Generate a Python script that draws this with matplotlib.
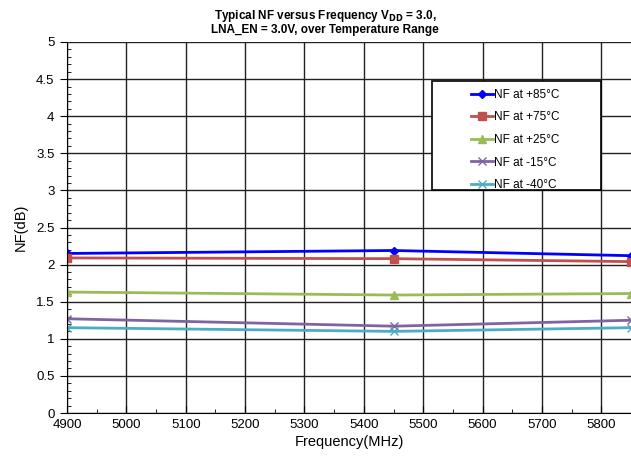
import numpy as np
import matplotlib.pyplot as plt
from matplotlib.ticker import MultipleLocator
from matplotlib.patches import Rectangle

plt.rcParams['font.family'] = ['Liberation Sans', 'DejaVu Sans']

# ── DATA ─────────────────────────────────────────────
freq = [4900, 5450, 5850]
nf_p85 = [2.15, 2.19, 2.12]
nf_p75 = [2.09, 2.08, 2.04]
nf_p25 = [1.63, 1.59, 1.61]
nf_m15 = [1.27, 1.17, 1.25]
nf_m40 = [1.15, 1.10, 1.15]

labels = ['NF at +85°C', 'NF at +75°C', 'NF at +25°C', 'NF at -15°C', 'NF at -40°C']
series = [nf_p85, nf_p75, nf_p25, nf_m15, nf_m40]
colors = ['#0000ff', '#c0504d', '#9bbb59', '#8064a2', '#4bacc6']
markers = ['D', 's', '^', 'x', 'x']
msizes = [4, 6, 6, 6, 6]

W, H = 631, 462
L, T, B = 67, 42, 413
fig = plt.figure(figsize=(W/100, H/100), dpi=100)
ax = fig.add_axes([L/W, 1 - B/H, (W - L)/W, (B - T)/H])

def ax_xy(px, py):
    return (px - L)/(W - L), 1 - (py - T)/(B - T)

for y, lab, c, m, ms in zip(series, labels, colors, markers, msizes):
    ax.plot(freq, y, color=c, marker=m, markersize=ms, linewidth=2,
            label=lab, clip_on=True)

ax.set_xlim(4900, 5850)
ax.set_ylim(0, 5)
ax.xaxis.set_major_locator(MultipleLocator(100))
ax.xaxis.set_minor_locator(MultipleLocator(50))
ax.yaxis.set_minor_locator(MultipleLocator(0.1))
ax.set_yticks(np.arange(0, 5.01, 0.5))
ax.set_yticklabels(['0', '0.5', '1', '1.5', '2', '2.5', '3', '3.5', '4', '4.5', '5'])
ax.grid(True, which='major', color='#222222', linewidth=1)
ax.set_axisbelow(True)
ax.tick_params(which='major', length=5, labelsize=9.5, direction='in', pad=4)
ax.tick_params(which='minor', length=3, direction='in')
ax.tick_params(axis='y', direction='out')
for s in ['right', 'top']:
    ax.spines[s].set_visible(False)

ax.set_xlabel('Frequency(MHz)', fontsize=10.5, labelpad=3)
ax.set_ylabel('NF(dB)', fontsize=10.5, labelpad=6)

fig.text(0.515, 0.966, r'Typical NF versus Frequency V$_{\mathbf{DD}}$ = 3.0,',
         ha='center', va='center', fontsize=8.5, fontweight='bold')
fig.text(0.515, 0.936, 'LNA_EN = 3.0V, over Temperature Range',
         ha='center', va='center', fontsize=8.5, fontweight='bold')

# legend box
x0, y0 = ax_xy(432, 190)
x1, y1 = ax_xy(601, 81)
ax.add_patch(Rectangle((x0, y0), x1 - x0, y1 - y0, transform=ax.transAxes,
                       facecolor='white', edgecolor='black', linewidth=1.2,
                       zorder=5))
leg = ax.legend(loc='upper left', bbox_to_anchor=ax_xy(466, 84),
                fontsize=8.5, frameon=False, labelspacing=0.9,
                handlelength=1.9, handletextpad=0.05, borderpad=0.4,
                borderaxespad=0)
leg.set_zorder(6)

fig.savefig('out.png', dpi=100)
